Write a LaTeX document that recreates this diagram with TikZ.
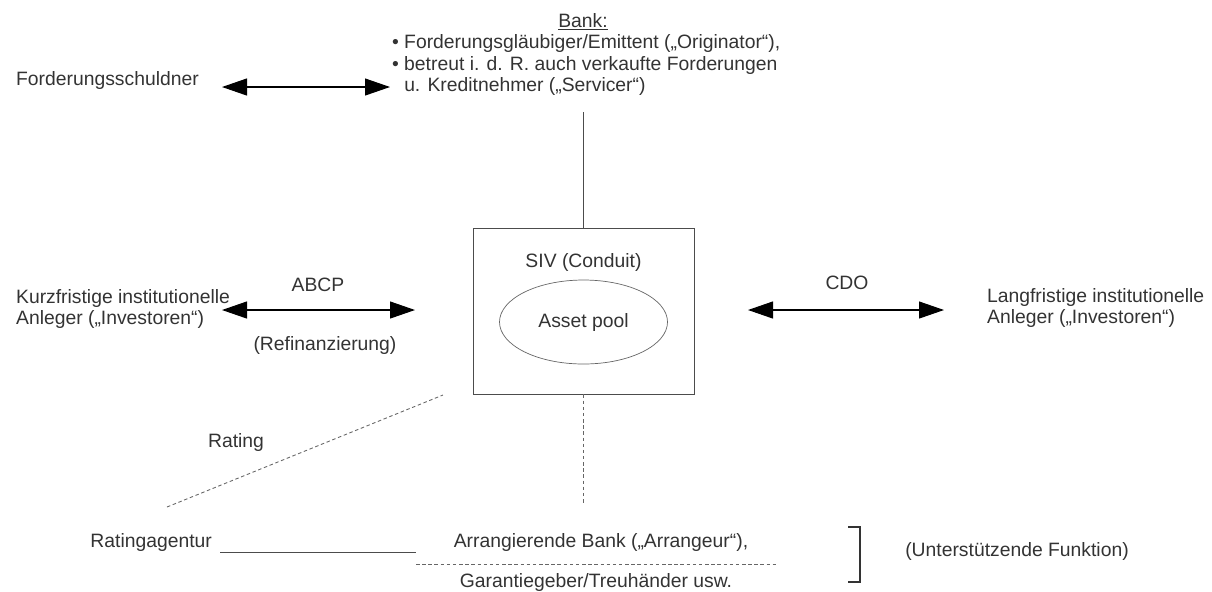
\documentclass[tikz,border=0pt]{standalone}
\usepackage{fontspec}
\setmainfont{Liberation Sans}
\usetikzlibrary{arrows.meta,positioning,shapes.geometric}
\definecolor{txtgray}{HTML}{333333}
\begin{document}
\begin{tikzpicture}[every node/.style={font=\fontsize{11}{12.2}\selectfont,text=txtgray,inner sep=1pt},
 arr/.style={{Triangle[length=0.5cm,width=0.34cm]}-{Triangle[length=0.5cm,width=0.34cm]},line width=0.6pt},
 ln/.style={draw=black!70,line width=0.5pt},
 dot/.style={draw=black!60,line width=0.5pt,dash pattern=on 2pt off 1.5pt}]
\useasboundingbox (0,0) rectangle (24.24,-11.82);
% oben: Schuldner und Bank
\node[anchor=west] (fs) at (0.28,-1.60) {Forderungsschuldner};
\node (bank) at (11.66,-0.44) {\underline{Bank:}};
\node[anchor=west,align=left] (bl) at (7.80,-1.30) {\textbullet\ Forderungsgläubiger/Emittent („Originator“),\\
 \textbullet\ betreut i. d. R. auch verkaufte Forderungen\\
 \phantom{\textbullet\ }u. Kreditnehmer („Servicer“)};
\coordinate (fsR) at (4.44,-1.74);
\coordinate (blL) at (7.80,-1.74);
\draw[arr] (fsR)--(blL);
% Zweckgesellschaft
\node[ln,minimum width=4.42cm,minimum height=3.32cm] (siv) at (11.67,-6.22) {};
\node (sivt) at (11.67,-5.24) {SIV (Conduit)};
\node[ellipse,draw=black!60,line width=0.4pt,minimum width=3.36cm,minimum height=1.68cm] (pool) at (11.67,-6.44) {Asset pool};
\coordinate (blB) at (11.67,-2.24);
\draw[ln] (blB)--(siv.north);
% Investoren
\node[anchor=west,align=left] (kurz) at (0.28,-6.18) {Kurzfristige institutionelle\\Anleger („Investoren“)};
\node[anchor=west,align=left] (lang) at (19.70,-6.16) {Langfristige institutionelle\\Anleger („Investoren“)};
\coordinate (kR) at (4.44,-6.20);
\coordinate (sL) at (8.30,-6.20);
\coordinate (sR) at (14.96,-6.20);
\coordinate (lL) at (18.88,-6.20);
\draw[arr] (kR)--(sL);
\draw[arr] (sR)--(lL);
\node (abcp) at (6.36,-5.70) {ABCP};
\node (refi) at (6.50,-6.90) {(Refinanzierung)};
\node (cdo) at (16.94,-5.66) {CDO};
% unten: Rating und Arrangeur
\node (rat) at (4.72,-8.84) {Rating};
\node[anchor=east] (ra) at (4.28,-10.84) {Ratingagentur};
\node (arr) at (12.02,-10.84) {Arrangierende Bank („Arrangeur“),};
\node (gar) at (11.92,-11.64) {Garantiegeber/Treuhänder usw.};
\node (unt) at (20.34,-11.02) {(Unterstützende Funktion)};
\coordinate (raT) at (3.34,-10.14);
\coordinate (sivBL) at (8.86,-7.90);
\draw[dot] (raT)--(sivBL);
\coordinate (sivB) at (11.67,-10.10);
\draw[dot] (siv.south)--(sivB);
\coordinate (raR) at (4.40,-11.04);
\coordinate (arL) at (8.32,-11.04);
\draw[ln] (raR)--(arL);
\coordinate (trL) at (8.32,-11.28);
\coordinate (trR) at (15.56,-11.28);
\draw[dot] (trL)--(trR);
\draw[line width=1.6pt,black!80] (16.96,-10.54)--(17.20,-10.54)--(17.20,-11.64)--(16.96,-11.64);
\end{tikzpicture}
\end{document}
